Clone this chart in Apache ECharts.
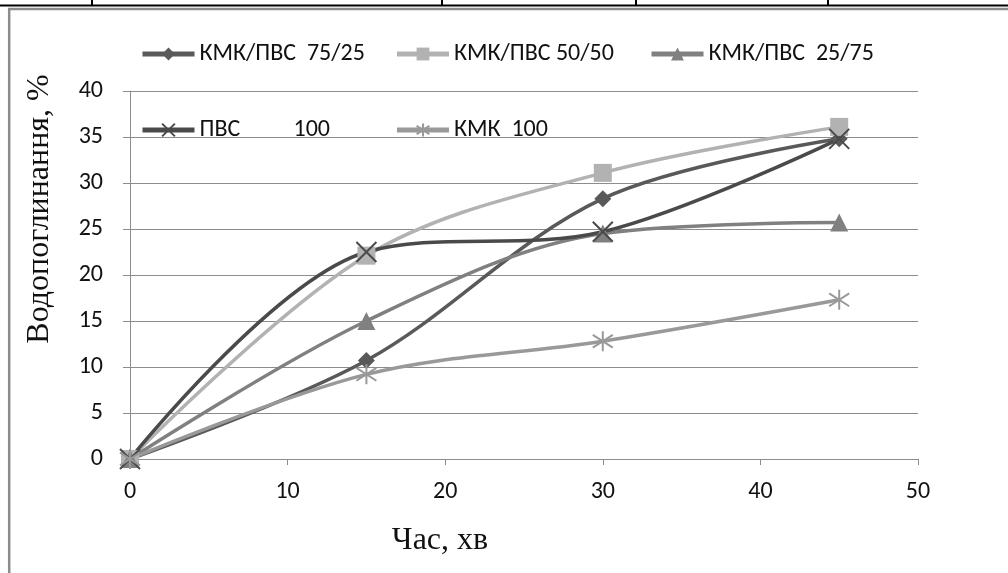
<!DOCTYPE html>
<html>
<head>
<meta charset="utf-8">
<script src="https://cdn.jsdelivr.net/npm/echarts@6/dist/echarts.min.js"></script>
<style>
  html, body { margin: 0; padding: 0; background: #fff; }
  #chart { width: 1008px; height: 573px; }
</style>
</head>
<body>
<div id="chart"></div>
<script>
// Time points, min
const times = [0, 15, 30, 45];

// Water absorption, %
const kmkPvs7525 = [0, 10.7, 28.3, 34.8];
const kmkPvs5050 = [0, 22.1, 31.1, 36.1];
const kmkPvs2575 = [0, 15.0, 24.5, 25.7];
const pvs100 = [0, 22.5, 24.7, 34.8];
const kmk100 = [0, 9.2, 12.8, 17.3];

const seriesNames = ['КМК/ПВС  75/25', 'КМК/ПВС 50/50', 'КМК/ПВС  25/75', 'ПВС 100', 'КМК  100'];

const xTicks = [0, 10, 20, 30, 40, 50];
const yTicks = [0, 5, 10, 15, 20, 25, 30, 35, 40];

const sansFont = 'Carlito, Lato, "Noto Sans", sans-serif';
const serifFont = '"Liberation Serif", "DejaVu Serif", serif';

const toPoints = arr => times.map((t, i) => [t, arr[i]]);

const crossPath = 'path://M0,0L10,10M10,0L0,10';
const starPath = 'path://M5,0L5,10M0.7,1.8L9.3,8.2M9.3,1.8L0.7,8.2';

function lineSeries(name, data, color, symbol, size, stroked) {
  const s = {
    name: name,
    type: 'line',
    data: toPoints(data),
    smooth: 0.34,
    symbol: symbol,
    symbolSize: size,
    lineStyle: { color: color, width: 3.5 },
    itemStyle: { color: color },
    emphasis: { disabled: true }
  };
  if (stroked) {
    s.itemStyle = { color: 'rgba(0,0,0,0)', borderColor: color, borderWidth: 2 };
  }
  return s;
}

const chart = echarts.init(document.getElementById('chart'), null, { renderer: 'canvas' });

const textBase = { fontFamily: sansFont, fontSize: 24, color: '#111', lineHeight: 28 };
const legendText = Object.assign({}, textBase, {
  rich: {
    t: Object.assign({ width: 185 }, textBase),
    p: Object.assign({ width: 94 }, textBase),
    q: Object.assign({ width: 91 }, textBase)
  }
});

const legendFormatter = name => {
  if (name === 'ПВС 100') return '{p|ПВС}{q|100}';
  return '{t|' + name + '}';
};

const legendCommon = {
  left: 140, padding: 0,
  itemWidth: 52, itemHeight: 16, itemGap: 10,
  formatter: legendFormatter,
  textStyle: legendText,
  lineStyle: { width: 5 },
  selectedMode: false
};

chart.setOption({
  animation: false,
  backgroundColor: '#fff',
  grid: { left: 130, right: 90, top: 91, bottom: 114, containLabel: false },
  legend: [
    Object.assign({ data: seriesNames.slice(0, 3), top: 40 }, legendCommon),
    Object.assign({ data: seriesNames.slice(3), top: 116 }, legendCommon)
  ],
  xAxis: {
    type: 'value',
    min: xTicks[0], max: xTicks[xTicks.length - 1], interval: 10,
    axisLine: { show: true, lineStyle: { color: '#8c8c8c', width: 1 } },
    axisTick: { show: true, length: 6, lineStyle: { color: '#8c8c8c' } },
    splitLine: { show: false },
    axisLabel: { margin: 21, fontFamily: sansFont, fontSize: 24, color: '#111' }
  },
  yAxis: {
    type: 'value',
    min: yTicks[0], max: yTicks[yTicks.length - 1], interval: 5,
    axisLine: { show: true, lineStyle: { color: '#8c8c8c', width: 1 } },
    axisTick: { show: true, length: 7, lineStyle: { color: '#8c8c8c' } },
    splitLine: { show: true, lineStyle: { color: '#8c8c8c', width: 1 } },
    axisLabel: { margin: 27, fontFamily: sansFont, fontSize: 24, color: '#111' }
  },
  series: [
    lineSeries(seriesNames[0], kmkPvs7525, '#595959', 'diamond', 17, false),
    lineSeries(seriesNames[1], kmkPvs5050, '#b2b2b2', 'rect', 18, false),
    lineSeries(seriesNames[2], kmkPvs2575, '#808080', 'triangle', 18, false),
    lineSeries(seriesNames[3], pvs100, '#4a4a4a', crossPath, 20, true),
    lineSeries(seriesNames[4], kmk100, '#999999', starPath, 20, true)
  ],
  graphic: [
    // table rule along the top edge
    { type: 'line', silent: true, shape: { x1: 0, y1: 5.5, x2: 1008, y2: 5.5 }, style: { stroke: '#000', lineWidth: 2 } },
    { type: 'line', silent: true, shape: { x1: 92, y1: 0, x2: 92, y2: 5 }, style: { stroke: '#000', lineWidth: 2 } },
    { type: 'line', silent: true, shape: { x1: 442, y1: 0, x2: 442, y2: 5 }, style: { stroke: '#000', lineWidth: 2 } },
    { type: 'line', silent: true, shape: { x1: 636, y1: 0, x2: 636, y2: 5 }, style: { stroke: '#000', lineWidth: 2 } },
    { type: 'line', silent: true, shape: { x1: 828, y1: 0, x2: 828, y2: 5 }, style: { stroke: '#000', lineWidth: 2 } },
    // chart frame
    { type: 'rect', silent: true, shape: { x: 9.2, y: 9, width: 1100, height: 700 }, style: { fill: 'none', stroke: '#8c8c8c', lineWidth: 2.5 } },
    // axis titles
    {
      type: 'text', silent: true, x: 40, y: 209, rotation: Math.PI / 2,
      style: { text: 'Водопоглинання, %', font: '32px ' + serifFont, fill: '#111', align: 'center', verticalAlign: 'middle' }
    },
    {
      type: 'text', silent: true, x: 440, y: 541,
      style: { text: 'Час, хв', font: '32px ' + serifFont, fill: '#111', align: 'center', verticalAlign: 'middle' }
    }
  ]
});
</script>
</body>
</html>
